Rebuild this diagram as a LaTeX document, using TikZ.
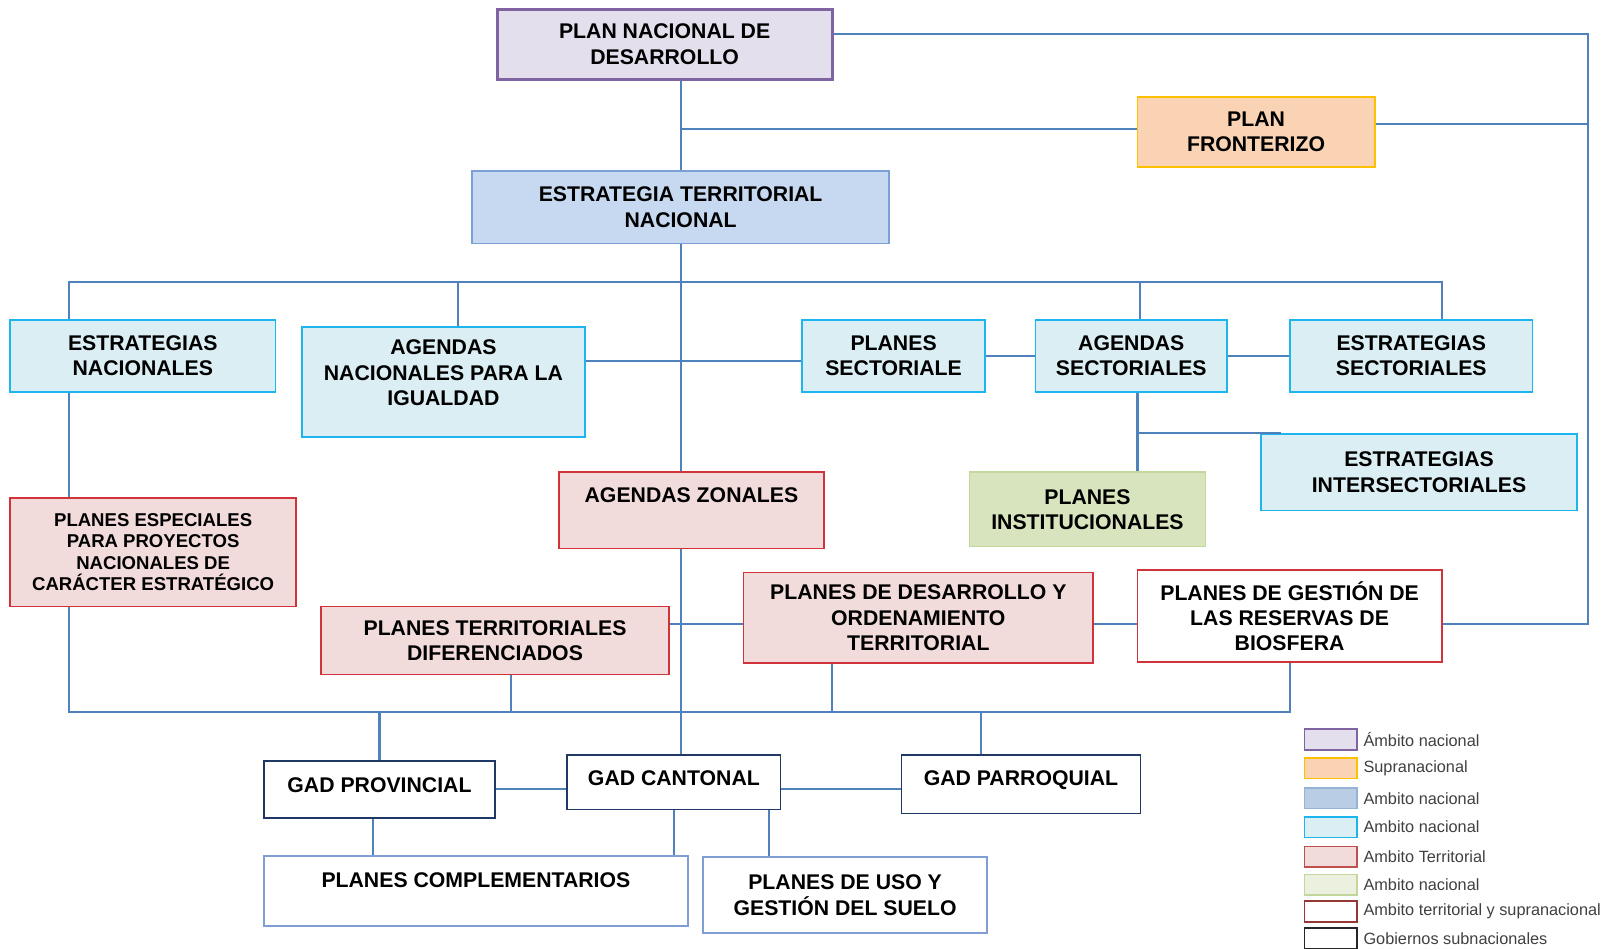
\documentclass[tikz,border=0pt]{standalone}
\usepackage{fontspec}
\setmainfont{Liberation Sans}
\usepackage{xcolor}
\usepackage{tikz}
\usetikzlibrary{positioning}
\definecolor{LinkBlue}{HTML}{4F81BD}
\definecolor{LilaFill}{HTML}{E4DFEC}
\definecolor{LilaLine}{HTML}{8064A2}
\definecolor{PeachFill}{HTML}{FAD3B4}
\definecolor{GoldLine}{HTML}{FFC000}
\definecolor{EtnFill}{HTML}{C6D9F1}
\definecolor{EtnLine}{HTML}{7BA0D6}
\definecolor{CyanFill}{HTML}{DAEEF3}
\definecolor{CyanLine}{HTML}{1CB5ED}
\definecolor{RedFill}{HTML}{F2DCDB}
\definecolor{RedLine}{HTML}{D0343A}
\definecolor{GreenFill}{HTML}{D7E4BD}
\definecolor{GreenLine}{HTML}{C3D69B}
\definecolor{NavyLine}{HTML}{1F3864}
\definecolor{SoftLine}{HTML}{7F9FD4}
\definecolor{LegBlue}{HTML}{B9CDE5}
\definecolor{LegBlueLine}{HTML}{95B3D7}
\definecolor{LegGreen}{HTML}{EBF1DE}
\definecolor{LegRed}{HTML}{C0504D}
\definecolor{LegBrown}{HTML}{953735}
\definecolor{LegDark}{HTML}{262626}
\definecolor{LegGray}{HTML}{404040}
\tikzset{
  planbox/.style={draw,line width=0.8pt,align=center,inner sep=0pt,text=black,font=\bfseries\fontsize{10.3}{12.3}\selectfont},
  lilabox/.style={planbox,fill=LilaFill,draw=LilaLine,line width=1.4pt},
  orangebox/.style={planbox,fill=PeachFill,draw=GoldLine},
  bluebox/.style={planbox,fill=EtnFill,draw=EtnLine},
  cyanbox/.style={planbox,fill=CyanFill,draw=CyanLine},
  greenbox/.style={planbox,fill=GreenFill,draw=GreenLine},
  redbox/.style={planbox,fill=RedFill,draw=RedLine},
  reservabox/.style={planbox,fill=white,draw=RedLine},
  gadbox/.style={planbox,fill=white,draw=NavyLine},
  subbox/.style={planbox,fill=white,draw=SoftLine},
  link/.style={line width=1pt,draw=LinkBlue},
  swatch/.style={draw,line width=0.8pt,minimum width=25.5pt,minimum height=10pt,inner sep=0pt},
  legtext/.style={font=\fontsize{7.9}{9}\selectfont,text=LegGray,inner sep=1.5pt}
}
\begin{document}
\begin{tikzpicture}[x=0.5pt,y=-0.5pt]
\useasboundingbox (0,0) rectangle (1568,920);
\node[lilabox,minimum width=162.5pt,minimum height=34pt] (pnd) at (644.5,43) {PLAN NACIONAL DE\\DESARROLLO};
\node[orangebox,minimum width=115pt,minimum height=34pt] (fron) at (1218,128) {PLAN\\FRONTERIZO};
\node[bluebox,minimum width=202pt,minimum height=35pt] (etn) at (660,201) {ESTRATEGIA TERRITORIAL\\NACIONAL};
\node[cyanbox,minimum width=128.5pt,minimum height=35pt] (estnac) at (138.5,345) {ESTRATEGIAS\\NACIONALES};
\node[cyanbox,minimum width=137pt,minimum height=53.5pt,text depth=9pt] (agnac) at (430,370.5) {AGENDAS\\NACIONALES PARA LA\\IGUALDAD};
\node[cyanbox,minimum width=88.5pt,minimum height=35pt] (plsec) at (866.5,345) {PLANES\\SECTORIALE};
\node[cyanbox,minimum width=93pt,minimum height=35pt] (agsec) at (1097,345) {AGENDAS\\SECTORIALES};
\node[cyanbox,minimum width=117.5pt,minimum height=35pt] (estsec) at (1368.5,345) {ESTRATEGIAS\\SECTORIALES};
\node[cyanbox,minimum width=153pt,minimum height=37pt] (estint) at (1376,458) {ESTRATEGIAS\\INTERSECTORIALES};
\node[greenbox,minimum width=114.5pt,minimum height=36pt] (plinst) at (1054.5,494) {PLANES\\INSTITUCIONALES};
\node[redbox,minimum width=128.5pt,minimum height=37pt,text height=7.4pt,text depth=15pt] (agzon) at (670.5,495) {AGENDAS ZONALES};
\node[redbox,minimum width=138.5pt,minimum height=52.5pt,font=\bfseries\fontsize{9}{10.4}\selectfont] (plesp) at (148.5,535.5) {PLANES ESPECIALES\\PARA PROYECTOS\\NACIONALES DE\\CARÁCTER ESTRATÉGICO};
\node[redbox,minimum width=169pt,minimum height=33pt] (ptd) at (480,621) {PLANES TERRITORIALES\\DIFERENCIADOS};
\node[redbox,minimum width=169.5pt,minimum height=44pt] (pdot) at (890.5,599) {PLANES DE DESARROLLO Y\\ORDENAMIENTO\\TERRITORIAL};
\node[reservabox,minimum width=147.5pt,minimum height=44.5pt] (pgest) at (1250.5,597.5) {PLANES DE GESTIÓN DE\\LAS RESERVAS DE\\BIOSFERA};
\node[gadbox,minimum width=112pt,minimum height=27.5pt,text height=7.4pt,text depth=4pt] (gadpro) at (368,765.5) {GAD PROVINCIAL};
\node[gadbox,minimum width=103.5pt,minimum height=26.5pt,text height=7.4pt,text depth=4.5pt] (gadcan) at (653.5,758.5) {GAD CANTONAL};
\node[gadbox,minimum width=116pt,minimum height=28.5pt,text height=7.4pt,text depth=6pt] (gadpar) at (990,760.5) {GAD PARROQUIAL};
\node[subbox,minimum width=205.5pt,minimum height=34pt,text height=7.4pt,text depth=11pt] (pcomp) at (461.5,864) {PLANES COMPLEMENTARIOS};
\node[subbox,minimum width=137.5pt,minimum height=37pt] (puso) at (819.5,868) {PLANES DE USO Y\\GESTIÓN DEL SUELO};
\coordinate (rtop) at (1540,33);
\coordinate (rbot) at (1540,605);
\coordinate (busal) at (67,273);
\coordinate (busar) at (1398,273);
\coordinate (busbl) at (67,690);
\coordinate (busbr) at (1250.5,690);
\draw[link] (pnd.east |- rtop) -- (rtop) -- (rbot) -- (pgest.east |- rbot);
\draw[link] ([yshift=4pt]fron.east) -- ([yshift=4pt]fron.east -| rtop);
\draw[link] (pnd.south -| etn.north) -- (etn.north);
\draw[link] ([yshift=1.5pt]etn.north |- fron.west) -- ([yshift=1.5pt]fron.west);
\draw[link] (etn.south) -- (etn.south |- agzon.north);
\draw[link] (estnac.north -| busal) -- (busal) -- (busar) -- (estsec.north -| busar);
\draw[link] ([xshift=7pt]agnac.north) -- ([xshift=7pt]agnac.north |- busal);
\draw[link] ([xshift=4pt]agsec.north) -- ([xshift=4pt]agsec.north |- busal);
\draw[link] ([yshift=10.25pt]agnac.east) -- ([yshift=10.25pt]agnac.east -| plsec.west);
\draw[link] (plsec.east) -- (agsec.west);
\draw[link] (agsec.east) -- (estsec.west);
\draw[link] ([xshift=3pt]agsec.south) -- ([xshift=3pt]agsec.south |- plinst.north);
\draw[link] ([xshift=3pt]agsec.south |- estint.north) -- ([xshift=10pt]estint.north west);
\draw[link] (estnac.south -| busal) -- (plesp.north -| busal);
\draw[link] (agzon.south -| etn.south) -- (gadcan.north -| etn.south);
\draw[link] ([yshift=8pt]ptd.east) -- ([yshift=8pt]ptd.east -| pdot.west);
\draw[link] (pdot.east |- rbot) -- (pgest.west |- rbot);
\draw[link] (plesp.south -| busbl) -- (busbl) -- (busbr) -- (pgest.south);
\draw[link] ([xshift=7.75pt]ptd.south) -- ([xshift=7.75pt]ptd.south |- busbl);
\draw[link] ([xshift=-41.75pt]pdot.south) -- ([xshift=-41.75pt]pdot.south |- busbl);
\draw[link] (gadpro.north) -- (gadpro.north |- busbl);
\draw[link] ([xshift=-19.5pt]gadpar.north) -- ([xshift=-19.5pt]gadpar.north |- busbl);
\draw[link] (gadpro.east) -- (gadpro.east -| gadcan.west);
\draw[link] ([yshift=-3.25pt]gadcan.east) -- ([yshift=-3.25pt]gadcan.east -| gadpar.west);
\draw[link] ([xshift=-3pt]gadpro.south) -- ([xshift=-3pt]gadpro.south |- pcomp.north);
\draw[link] (gadcan.south) -- (gadcan.south |- pcomp.north);
\draw[link] ([xshift=46.25pt]gadcan.south) -- ([xshift=46.25pt]gadcan.south |- puso.north);
\node[swatch,fill=LilaFill,draw=LilaLine] (lga) at (1290.5,717) {};
\node[legtext,right=1pt of lga] (lgta) {Ámbito nacional};
\node[swatch,fill=PeachFill,draw=GoldLine] (lgb) at (1290.5,745) {};
\node[legtext,right=1pt of lgb] (lgtb) {Supranacional};
\node[swatch,fill=LegBlue,draw=LegBlueLine] (lgc) at (1290.5,774) {};
\node[legtext,right=1pt of lgc] (lgtc) {Ambito nacional};
\node[swatch,fill=CyanFill,draw=CyanLine] (lgd) at (1290.5,802) {};
\node[legtext,right=1pt of lgd] (lgtd) {Ambito nacional};
\node[swatch,fill=RedFill,draw=LegRed] (lge) at (1290.5,831) {};
\node[legtext,right=1pt of lge] (lgte) {Ambito Territorial};
\node[swatch,fill=LegGreen,draw=GreenLine] (lgf) at (1290.5,858) {};
\node[legtext,right=1pt of lgf] (lgtf) {Ambito nacional};
\node[swatch,fill=white,draw=LegBrown] (lgg) at (1290.5,884) {};
\node[legtext,right=1pt of lgg] (lgtg) {Ambito territorial y supranacional};
\node[swatch,fill=white,draw=LegDark] (lgh) at (1290.5,910) {};
\node[legtext,right=1pt of lgh] (lgth) {Gobiernos subnacionales};
\end{tikzpicture}
\end{document}
